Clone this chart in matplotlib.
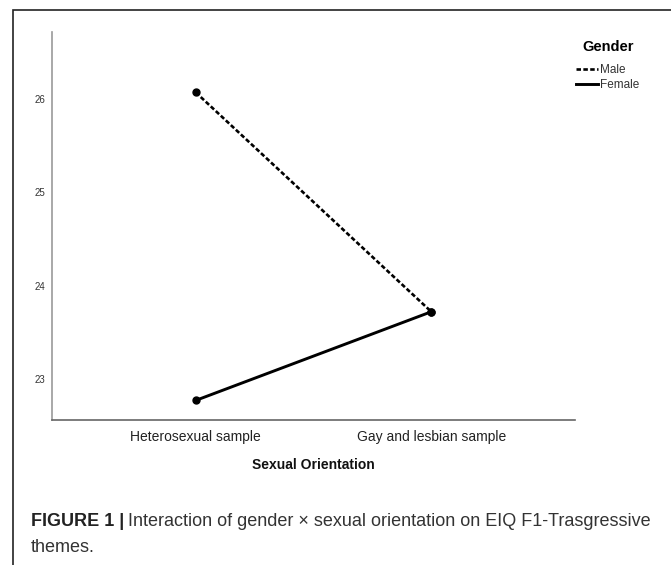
import matplotlib.pyplot as plt
from matplotlib.patches import Rectangle

plt.rcParams['font.family'] = ['Liberation Sans', 'DejaVu Sans']

# Estimated marginal means
orientation = ['Heterosexual sample', 'Gay and lesbian sample']
male = [26.07, 23.72]
female = [22.77, 23.72]
y_ticks = [23, 24, 25, 26]

fig = plt.figure(figsize=(6.71, 5.65), dpi=100)
ax = fig.add_axes([0.0775, 0.2566, 0.7795, 0.6873])

x = range(len(orientation))
ax.plot(x, male, color='black', lw=1.9, ls=(0, (1.7, 0.9)),
        marker='o', ms=5, label='Male')
ax.plot(x, female, color='black', lw=2.1, ls='-',
        marker='o', ms=5, label='Female')

ax.set_xlim(-0.61, 1.61)
ax.set_ylim(22.56, 26.72)
ax.set_xticks(list(x))
ax.set_xticklabels(orientation, fontsize=10, color='#222222')
ax.set_yticks(y_ticks)
ax.set_yticklabels([str(v) for v in y_ticks], fontsize=7, color='#333333')
ax.tick_params(length=0)
ax.tick_params(axis='x', pad=7)
ax.tick_params(axis='y', pad=5)
ax.spines['top'].set_visible(False)
ax.spines['right'].set_visible(False)
ax.spines['left'].set_color('#999999')
ax.spines['bottom'].set_color('#666666')
ax.spines['left'].set_linewidth(1.2)
ax.spines['bottom'].set_linewidth(1.2)
ax.set_xlabel('Sexual Orientation', fontsize=10, fontweight='bold',
              color='#111111', labelpad=10)

leg = fig.legend(loc='upper left', bbox_to_anchor=(0.842, 0.948),
                 title='Gender', title_fontproperties={'weight': 'bold', 'size': 10.5},
                 fontsize=8.5, frameon=False, handlelength=1.9,
                 handletextpad=0.2, labelspacing=0.3, markerscale=0)
leg._legend_box.sep = 7
for h in leg.legend_handles:
    h.set_marker('')
for t in leg.get_texts():
    t.set_color('#333333')

# outer frame around the figure panel
fig.patches.append(Rectangle((13 / 671, -0.05), 1.2, 1 - 10 / 565 + 0.05,
                             transform=fig.transFigure, fill=False,
                             edgecolor='#222222', lw=1.2, clip_on=False))

# caption
cap_y = 1 - 521 / 565
t1 = fig.text(31 / 671, cap_y, 'FIGURE 1 |', fontsize=13, fontweight='bold',
              color='#222222', va='center')
fig.canvas.draw()
bb = t1.get_window_extent()
fig.text(bb.x1 / fig.bbox.width + 0.006, cap_y,
         'Interaction of gender \u00d7 sexual orientation on EIQ F1-Trasgressive',
         fontsize=13, color='#333333', va='center')
fig.text(31 / 671, 1 - 547 / 565, 'themes.', fontsize=13, color='#333333',
         va='center')

fig.savefig('out.png', dpi=100)
